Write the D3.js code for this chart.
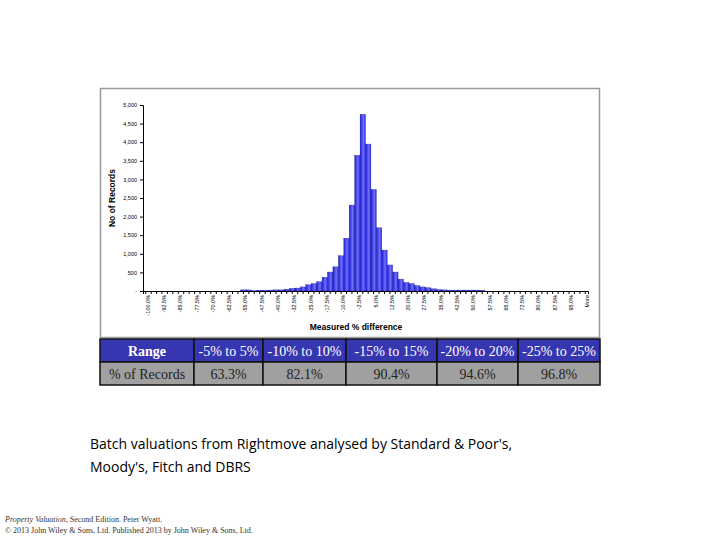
<!DOCTYPE html>
<html><head><meta charset="utf-8">
<script src="https://cdn.jsdelivr.net/npm/d3@7"></script>
<style>body{margin:0;background:#fff}</style>
</head><body>
<svg id="chart" width="720" height="540"></svg>
<script>
// histogram bins: -100% .. 100% in 2.5% steps, plus "More"
var binLabels = d3.range(81).map(function(i){ return (-100 + 2.5*i).toFixed(1) + "%"; }).concat(["More"]);
var counts = [0,0,0,0,0,0,0,0,0,0, 0,0,0,0,0,0,0,0,30,30,
  5,20,20,25,30,30,50,70,80,110, 170,200,250,370,510,650,950,1420,2310,3650,
  4750,3950,2730,1700,1100,700,510,320,230,200, 150,110,90,60,40,30,25,25,25,25,
  25,25,20,0,0,0,0,0,0,0, 0,0,0,0,0,0,0,0,0,0, 0,0];
var yTicks = [0,500,1000,1500,2000,2500,3000,3500,4000,4500,5000];
var rangeLabels = ["Range","-5% to 5%","-10% to 10%","-15% to 15%","-20% to 20%","-25% to 25%"];
var pctLabels = ["% of Records","63.3%","82.1%","90.4%","94.6%","96.8%"];

var svg = d3.select("#chart");

// chart frame
svg.append("rect").attr("x",100.5).attr("y",88.5).attr("width",499).attr("height",249)
  .attr("fill","#fff").attr("stroke","#999").attr("stroke-width",1.5);

var x = d3.scaleBand().domain(binLabels).range([143,588]).padding(0);
var y = d3.scaleLinear().domain([0,5000]).range([291,105]);

var grad = svg.append("defs").append("linearGradient").attr("id","bar");
grad.append("stop").attr("offset","0%").attr("stop-color","#1c1cd0");
grad.append("stop").attr("offset","60%").attr("stop-color","#7070ff");
grad.append("stop").attr("offset","100%").attr("stop-color","#2a2ae0");

svg.selectAll(".bar").data(counts).enter().append("rect")
  .attr("x",function(d,i){ return x(binLabels[i]); })
  .attr("y",function(d){ return y(d); })
  .attr("width",x.bandwidth())
  .attr("height",function(d){ return 291 - y(d); })
  .attr("fill","url(#bar)").attr("stroke","#1a1a90").attr("stroke-width",0.3);

var yAxis = svg.append("g").attr("transform","translate(143,0)")
  .call(d3.axisLeft(y).tickValues(yTicks).tickSize(3)
    .tickFormat(function(d){ return d===0 ? "-" : d3.format(",")(d); }));
yAxis.selectAll("text").attr("font-size",5.5).attr("font-family","Arial");

var xAxis = svg.append("g").attr("transform","translate(0,291)")
  .call(d3.axisBottom(x).tickSize(3)
    .tickFormat(function(d,i){ return i%3===0 || d==="More" ? d : ""; }));
xAxis.selectAll("text").attr("font-size",5.5).attr("font-family","Arial")
  .attr("transform","rotate(-90)").attr("text-anchor","end").attr("dx",-4).attr("dy",-2);
svg.selectAll(".domain").attr("stroke","#000");

svg.append("text").attr("x",356).attr("y",330).attr("text-anchor","middle")
  .attr("font-family","Arial").attr("font-weight","bold").attr("font-size",8.5).text("Measured %  difference");
svg.append("text").attr("transform","translate(115,198) rotate(-90)").attr("text-anchor","middle")
  .attr("font-family","Arial").attr("font-weight","bold").attr("font-size",8.5).text("No of Records");

// summary table
var colX = [100,194,263,346,437,518,600];
[rangeLabels,pctLabels].forEach(function(row,r){
  var y0 = r===0 ? 339 : 362;
  row.forEach(function(t,i){
    svg.append("rect").attr("x",colX[i]).attr("y",y0).attr("width",colX[i+1]-colX[i]).attr("height",23)
      .attr("fill", r===0 ? "#3636b0" : "#a0a0a0").attr("stroke","#111").attr("stroke-width",1.5);
    svg.append("text").attr("x",(colX[i]+colX[i+1])/2).attr("y",y0+16.5).attr("text-anchor","middle")
      .attr("font-family","Liberation Serif").attr("font-size",14)
      .attr("font-weight", r===0 && i===0 ? "bold" : "normal")
      .attr("fill", r===0 ? "#fff" : "#222").text(t);
  });
});

svg.append("text").attr("x",90).attr("y",449).attr("font-family","Open Sans").attr("font-size",14)
  .text("Batch valuations from Rightmove analysed by Standard & Poor's,");
svg.append("text").attr("x",90).attr("y",472).attr("font-family","Open Sans").attr("font-size",14)
  .text("Moody's, Fitch and DBRS");

var foot = svg.append("text").attr("x",5).attr("y",522).attr("font-family","Liberation Serif").attr("font-size",8).attr("fill","#333");
foot.append("tspan").attr("font-style","italic").text("Property Valuation");
foot.append("tspan").text(", Second Edition. Peter Wyatt.");
svg.append("text").attr("x",5).attr("y",533).attr("font-family","Liberation Serif").attr("font-size",8).attr("fill","#333")
  .text("© 2013 John Wiley & Sons, Ltd. Published 2013 by John Wiley & Sons, Ltd.");
</script>
</body></html>
